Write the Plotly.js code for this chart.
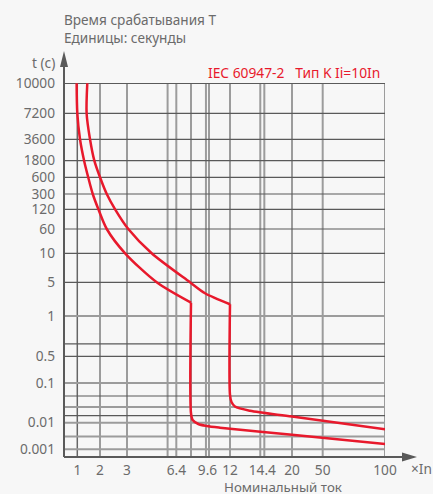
<!DOCTYPE html>
<html>
<head>
<meta charset="utf-8">
<script src="https://cdn.plot.ly/plotly-3.0.1.min.js"></script>
<style>
html,body{margin:0;padding:0;background:#f7f7f7;}
#chart{width:433px;height:494px;}
</style>
</head>
<body>
<div id="chart"></div>
<script>
// ---- data ----
const xTickValues = [1, 2, 3, 6.4, 9.6, 12, 14.4, 20, 50, 100];
const xTickLabels = ['1', '2', '3', '6.4', '9.6', '12', '14.4', '20', '50', '100'];
const yTickValues = [0.001, 0.01, 0.1, 0.5, 1, 5, 10, 60, 120, 300, 600, 1800, 3600, 7200, 10000];
const yTickLabels = ['0.001', '0.01', '0.1', '0.5', '1', '5', '10', '60', '120', '300', '600', '1800', '3600', '7200', '10000'];

const xGridValues = [1, 2, 3, 5.8, 6.4, 8, 9.45, 9.76, 12, 14.25, 14.78, 20, 50, 100];
const yGridValues = [0.001, 0.003, 0.01, 0.015, 0.025, 0.047, 0.1, 0.5, 0.62, 1, 5, 10, 60, 120, 300, 600, 1800, 3600, 7200, 10000];

// lower (fast) boundary
const lowerCurveX = [0.95, 1.0, 1.12, 1.30, 1.48, 1.68, 1.93, 2.25, 2.93, 5.05, 8];
const lowerCurveY = [10000, 7200, 3600, 1800, 600, 300, 120, 60, 10, 5, 1.89];
const lowerTailX = [8, 8, 8.16, 8.71, 9.52, 10.93, 20, 100];
const lowerTailY = [1.89, 0.0173, 0.0117, 0.00893, 0.00752, 0.00649, 0.0035, 0.00158];

// upper (slow) boundary
const upperCurveX = [1.44, 1.41, 1.56, 1.75, 2.0, 2.25, 2.56, 3.09, 4.70, 7.89, 9.36, 12];
const upperCurveY = [10000, 7200, 3600, 1800, 600, 300, 120, 60, 10, 5, 2.96, 1.75];
const upperTailX = [12, 12, 12.11, 12.37, 13.49, 20, 100];
const upperTailY = [1.75, 0.0499, 0.0332, 0.0256, 0.020, 0.0143, 0.00565];

// ---- non-uniform scale of this chart (value -> axis units) ----
const xScaleVal = [0, 1, 2, 3, 6.4, 8, 9.6, 12, 14.4, 20, 50, 100];
const xScalePos = [0, 13.3, 36, 63, 112.3, 127, 143.5, 166, 198.3, 228, 258.7, 321];
const yScaleVal = [0.001, 0.01, 0.1, 0.5, 1, 5, 10, 60, 120, 300, 600, 1800, 3600, 7200, 10000];
const yScalePos = [7.7, 34.3, 74, 100.7, 141, 174.7, 203.7, 228, 247.7, 263, 279.7, 296.3, 317.7, 343.7, 373.7];

function interp(v, vals, pos, useLog) {
  const f = useLog ? Math.log10 : (a => a);
  const t = f(v);
  for (let i = 0; i < vals.length - 1; i++) {
    const a = f(vals[i]), b = f(vals[i + 1]);
    if (t >= a && t <= b) return pos[i] + (t - a) / (b - a) * (pos[i + 1] - pos[i]);
  }
  if (t < f(vals[0])) {
    const a = f(vals[0]), b = f(vals[1]);
    return pos[0] + (t - a) / (b - a) * (pos[1] - pos[0]);
  }
  const n = vals.length;
  const a = f(vals[n - 2]), b = f(vals[n - 1]);
  return pos[n - 2] + (t - a) / (b - a) * (pos[n - 1] - pos[n - 2]);
}
const mapX = v => interp(v, xScaleVal, xScalePos, false);
const mapY = v => interp(v, yScaleVal, yScalePos, true);

const RED = '#e8192c';
const TXT = '#6b6b6b';
const FONT = 'Noto Sans, Open Sans, sans-serif';

function curve(xs, ys) {
  return {
    x: xs.map(mapX), y: ys.map(mapY), type: 'scatter', mode: 'lines',
    line: {color: RED, width: 2.5, shape: 'spline', smoothing: 0.8},
    hoverinfo: 'skip', showlegend: false
  };
}
const traces = [
  curve(lowerCurveX, lowerCurveY), curve(lowerTailX, lowerTailY),
  curve(upperCurveX, upperCurveY), curve(upperTailX, upperTailY)
];

const darkX = new Set([1]);
const darkY = new Set([10000, 7200, 3600, 1800, 600, 300, 120, 60, 10, 5, 0.62, 0.5, 0.047, 0.015]);
const shapes = [];
xGridValues.forEach(v => {
  const d = darkX.has(v);
  shapes.push({type: 'line', layer: 'below', xref: 'x', yref: 'paper', x0: mapX(v), x1: mapX(v), y0: 0, y1: 1,
    line: {color: d ? '#666666' : '#9c9c9c', width: d ? 1.5 : 2}});
});
yGridValues.forEach(v => {
  const d = darkY.has(v);
  shapes.push({type: 'line', layer: 'below', xref: 'paper', yref: 'y', x0: 0, x1: 1, y0: mapY(v), y1: mapY(v),
    line: {color: d ? '#5a5a5a' : '#9c9c9c', width: d ? 1.2 : 2}});
});
// axes with arrows (paper coords: plot area 321 x 374 px)
const px = p => (p - 64) / 321;
const py = p => (457 - p) / 374;
shapes.push({type: 'line', xref: 'paper', yref: 'paper', x0: 0, x1: 0, y0: 0, y1: py(66), line: {color: '#5a5a5a', width: 2}});
shapes.push({type: 'line', xref: 'paper', yref: 'paper', x0: 0, x1: px(404), y0: 0, y1: 0, line: {color: '#5a5a5a', width: 2}});
shapes.push({type: 'path', xref: 'paper', yref: 'paper',
  path: `M ${px(64)} ${py(51)} L ${px(60)} ${py(67)} L ${px(68)} ${py(67)} Z`, fillcolor: '#5a5a5a', line: {width: 0}});
shapes.push({type: 'path', xref: 'paper', yref: 'paper',
  path: `M ${px(417)} ${py(457)} L ${px(402)} ${py(452.5)} L ${px(402)} ${py(461.5)} Z`, fillcolor: '#5a5a5a', line: {width: 0}});

const annotations = [
  {text: 'IEC 60947-2\u00a0\u00a0\u00a0Тип K Ii=10In', xref: 'paper', yref: 'paper', x: px(206), y: py(72),
    xanchor: 'left', yanchor: 'middle', showarrow: false, font: {family: FONT, size: 13.8, color: RED}},
  {text: 't (c)', xref: 'paper', yref: 'paper', x: px(57), y: py(62), xanchor: 'right', yanchor: 'middle',
    showarrow: false, font: {family: FONT, size: 13.7, color: TXT}},
  {text: '×In', xref: 'paper', yref: 'paper', x: px(421), y: py(469), xanchor: 'center', yanchor: 'middle',
    showarrow: false, font: {family: FONT, size: 13.7, color: TXT}},
  {text: 'Номинальный ток', xref: 'paper', yref: 'paper', x: px(283), y: py(486.5), xanchor: 'center', yanchor: 'middle',
    showarrow: false, font: {family: FONT, size: 13.3, color: TXT}}
];

const layout = {
  width: 433, height: 494,
  margin: {l: 64, r: 48, t: 83, b: 37},
  paper_bgcolor: '#f7f7f7', plot_bgcolor: '#f7f7f7',
  font: {family: FONT, size: 13.7, color: TXT},
  title: {text: 'Время срабатывания T<br>Единицы: секунды', xref: 'container', yref: 'container',
    x: 64 / 433, xanchor: 'left', y: 1 - 25 / 494, yanchor: 'middle',
    font: {family: FONT, size: 13.6, color: TXT}},
  xaxis: {range: [0, 321], tickmode: 'array', tickvals: xTickValues.map(mapX), ticktext: xTickLabels,
    showgrid: false, zeroline: false, showline: false, ticks: '', ticklabelstandoff: 3, fixedrange: true,
    tickfont: {family: FONT, size: 13.7, color: TXT}},
  yaxis: {range: [0, 374], tickmode: 'array', tickvals: yTickValues.map(mapY), ticktext: yTickLabels,
    showgrid: false, zeroline: false, showline: false, ticks: '', ticklabelstandoff: 8, fixedrange: true,
    tickfont: {family: FONT, size: 13.7, color: TXT}},
  shapes: shapes,
  annotations: annotations,
  showlegend: false
};

Plotly.newPlot('chart', traces, layout, {displayModeBar: false, staticPlot: true});
</script>
</body>
</html>
